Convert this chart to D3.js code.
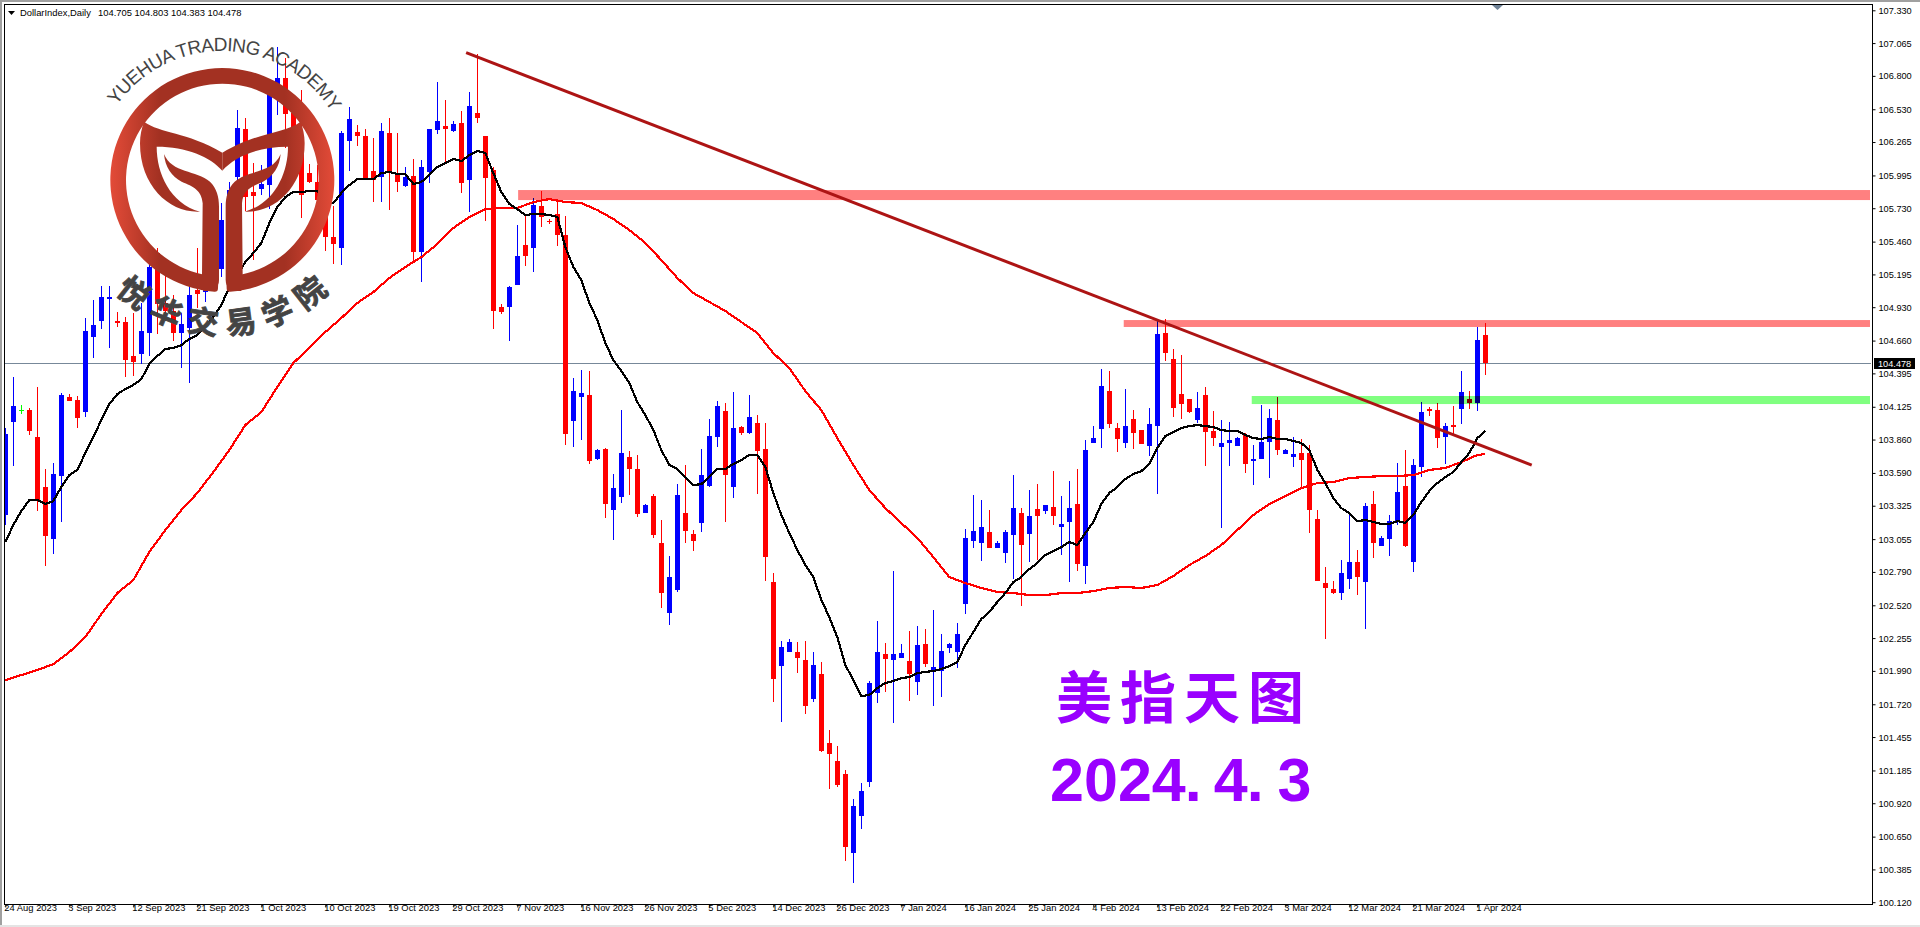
<!DOCTYPE html>
<html>
<head>
<meta charset="utf-8">
<title>DollarIndex,Daily</title>
<script src="https://cdn.jsdelivr.net/npm/d3@7"></script>
<style>
  html, body { margin: 0; padding: 0; background: #fff; overflow: hidden; }
  svg { display: block; }
  text { font-family: "Liberation Sans", Arial, sans-serif; }
</style>
</head>
<body>
<div id="chart"></div>
<script>
// Price data, one entry per daily bar
const highs = [
  103.953,104.366,104.139,104.114,104.285,103.621,103.670,104.236,104.228,104.212,
  104.842,104.988,105.101,105.101,104.891,104.850,104.883,104.964,105.408,105.408,
  105.230,105.028,104.883,105.109,105.408,105.230,105.675,105.772,105.942,106.524,
  106.459,106.095,106.079,106.685,107.033,106.944,106.605,106.685,106.087,106.079,
  105.748,105.748,106.354,106.548,106.402,106.370,106.297,106.419,106.459,106.338,
  106.063,106.128,106.120,106.370,106.750,106.605,106.435,106.516,106.669,106.976,
  106.314,106.063,104.955,105.101,105.594,105.675,105.812,105.869,105.643,105.796,
  105.667,104.357,104.422,104.414,103.783,103.791,103.581,104.098,103.767,103.735,
  103.339,103.419,103.209,102.918,103.500,103.654,103.128,103.783,104.026,104.171,
  104.155,104.244,103.969,104.220,104.058,103.993,102.781,102.231,102.247,102.223,
  102.231,102.142,102.061,101.512,101.382,101.188,100.954,101.083,101.908,102.393,
  102.215,102.797,102.207,102.312,102.352,102.328,102.482,102.288,102.215,102.377,
  103.137,103.411,103.371,103.290,103.040,103.128,103.573,103.306,103.452,103.500,
  103.331,103.605,103.403,103.525,103.622,103.856,103.969,104.430,104.414,103.993,
  104.268,104.098,103.937,104.114,104.826,104.834,104.592,104.543,104.188,104.244,
  104.285,104.090,104.018,104.002,103.880,103.913,103.816,104.139,104.106,104.204,
  103.783,103.880,103.864,103.816,103.290,102.829,102.716,102.886,103.266,102.967,
  103.347,103.444,103.080,103.250,103.670,103.775,103.702,104.163,104.123,104.155,
  103.993,104.131,104.414,104.252,104.770,104.803
];
const lows = [
  103.169,103.646,104.066,103.897,103.282,102.838,102.935,103.193,104.171,103.953,
  104.042,104.519,104.754,104.600,104.770,104.366,104.373,104.470,104.535,104.713,
  104.818,104.656,104.438,104.317,104.923,104.972,105.190,105.174,105.109,105.877,
  105.707,105.311,105.837,105.723,106.483,106.217,106.200,105.651,105.934,105.740,
  105.384,105.279,105.271,106.031,106.233,105.958,105.780,105.780,105.715,105.861,
  105.901,105.295,105.133,105.934,106.330,106.095,106.346,105.853,105.699,106.419,
  105.626,104.754,104.875,104.656,105.109,105.263,105.214,105.578,105.602,105.424,
  103.816,103.800,103.856,103.662,103.694,103.225,103.048,103.347,103.411,103.234,
  103.266,103.064,102.498,102.360,102.627,103.023,102.959,103.112,103.476,103.800,
  103.193,103.387,103.897,103.905,103.419,102.716,101.738,101.576,102.142,101.972,
  101.641,101.738,101.334,101.035,101.051,100.453,100.275,100.711,101.051,101.730,
  101.819,101.568,102.094,101.746,101.795,102.021,101.706,101.778,102.134,102.013,
  102.449,102.983,102.878,102.983,102.983,102.862,102.732,102.514,102.870,102.886,
  103.258,103.169,102.926,102.708,102.797,102.692,103.832,103.791,103.953,103.759,
  103.791,103.783,103.824,103.727,103.419,104.495,104.042,104.026,104.074,103.993,
  103.646,103.808,103.145,103.646,103.808,103.589,103.492,103.702,103.549,103.735,
  103.743,103.638,103.476,103.104,102.716,102.247,102.611,102.563,102.652,102.603,
  102.328,102.902,102.999,102.918,103.169,102.991,102.789,103.557,104.050,103.791,
  103.662,103.905,103.985,104.107,104.090,104.383
];
const opens = [
  103.250,104.001,104.098,104.098,103.880,103.476,103.056,103.565,104.204,104.179,
  104.082,104.689,104.818,104.996,104.818,104.810,104.535,104.551,104.721,105.368,
  104.964,104.899,104.721,104.762,105.069,105.052,105.594,105.238,105.295,105.982,
  106.370,105.861,105.885,105.917,106.629,106.782,106.500,106.176,106.014,105.942,
  105.715,105.497,105.408,106.273,106.346,106.314,106.031,105.982,106.338,106.014,
  105.909,105.990,105.376,106.023,106.362,106.394,106.354,106.419,105.958,106.500,
  106.314,106.039,104.931,104.931,105.109,105.432,105.408,105.748,105.626,105.683,
  105.513,104.010,104.204,104.220,103.702,103.783,103.290,103.395,103.719,103.622,
  103.266,103.403,103.023,102.457,102.643,103.266,103.096,103.185,103.484,103.880,
  104.090,103.476,103.961,103.913,103.993,103.783,102.708,102.029,102.142,102.142,
  102.077,101.762,101.964,101.406,101.261,101.156,100.517,100.817,101.091,101.811,
  102.126,102.077,102.094,102.069,101.900,102.207,101.981,101.989,102.175,102.142,
  102.530,103.040,103.023,103.112,102.983,102.943,103.088,103.266,103.096,103.298,
  103.282,103.314,103.153,103.193,103.339,102.838,103.832,103.945,104.252,103.953,
  103.832,104.026,103.937,103.807,103.969,104.721,104.511,104.228,104.188,104.018,
  104.220,103.929,103.800,103.832,103.808,103.897,103.686,103.702,103.840,104.018,
  103.743,103.719,103.751,103.751,103.217,102.700,102.652,102.619,102.732,102.870,
  102.708,103.339,102.999,103.056,103.201,103.484,102.870,103.638,104.107,104.098,
  103.880,103.977,104.107,104.188,104.155,104.705
];
const closes = [
  103.904,104.130,104.098,103.929,103.363,103.080,103.581,104.220,104.171,104.034,
  104.737,104.786,105.012,105.012,104.802,104.503,104.487,104.737,105.255,104.955,
  104.899,104.721,104.794,105.028,105.036,105.166,105.295,105.635,105.877,106.378,
  105.820,105.829,105.926,106.653,106.782,106.491,106.362,105.837,105.942,105.796,
  105.497,105.440,106.338,106.451,106.314,105.966,105.958,106.354,106.014,105.942,
  105.982,105.376,106.063,106.370,106.435,106.370,106.411,105.934,106.556,106.459,
  105.974,104.899,104.891,105.093,105.343,105.343,105.756,105.659,105.618,105.513,
  103.905,104.252,104.236,103.686,103.775,103.339,103.468,103.751,103.622,103.258,
  103.331,103.088,102.619,102.748,103.411,103.120,103.040,103.573,103.888,104.131,
  103.573,103.953,103.913,104.042,103.767,102.910,101.924,102.183,102.223,102.094,
  101.706,102.037,101.342,101.317,101.067,100.566,100.897,101.018,101.892,102.142,
  102.086,102.126,102.134,101.964,102.199,102.045,102.021,102.150,102.207,102.288,
  103.064,103.120,103.153,102.983,103.023,103.112,103.306,103.007,103.242,103.242,
  103.331,103.242,103.177,103.306,102.854,103.775,103.872,104.292,103.985,103.864,
  103.969,103.913,103.824,103.985,104.713,104.559,104.115,104.147,104.082,104.114,
  103.921,103.872,103.832,103.856,103.872,103.662,103.702,103.840,104.034,103.775,
  103.775,103.743,103.694,103.290,102.716,102.660,102.619,102.781,102.870,102.748,
  103.323,103.023,103.064,103.201,103.436,102.999,103.654,104.082,104.090,103.872,
  103.969,103.961,104.244,104.155,104.664,104.478
];

// Black moving average, one value per bar
const fastMA = [
  103.032,103.169,103.282,103.371,103.371,103.339,103.363,103.476,103.573,103.614,
  103.751,103.880,104.018,104.147,104.228,104.268,104.301,104.349,104.470,104.535,
  104.592,104.600,104.624,104.673,104.705,104.770,104.850,104.947,105.093,105.190,
  105.295,105.368,105.449,105.610,105.740,105.820,105.861,105.861,105.869,105.869,
  105.796,105.772,105.853,105.917,105.966,105.966,105.966,106.014,106.023,106.006,
  106.006,105.926,105.942,105.998,106.063,106.095,106.128,106.111,106.160,106.192,
  106.176,106.014,105.861,105.764,105.723,105.675,105.683,105.683,105.675,105.659,
  105.416,105.255,105.149,104.964,104.826,104.640,104.503,104.414,104.317,104.163,
  104.058,103.937,103.775,103.654,103.622,103.557,103.492,103.500,103.557,103.622,
  103.622,103.662,103.694,103.735,103.735,103.638,103.428,103.250,103.104,102.967,
  102.846,102.748,102.563,102.425,102.263,102.037,101.916,101.786,101.795,101.851,
  101.892,101.908,101.932,101.940,101.972,101.981,101.989,102.005,102.029,102.061,
  102.199,102.304,102.409,102.466,102.547,102.619,102.708,102.748,102.813,102.862,
  102.926,102.959,102.991,103.032,103.007,103.104,103.193,103.339,103.428,103.476,
  103.541,103.581,103.605,103.662,103.791,103.888,103.921,103.953,103.969,103.977,
  103.969,103.961,103.937,103.929,103.929,103.897,103.872,103.864,103.880,103.864,
  103.864,103.848,103.832,103.775,103.614,103.508,103.387,103.306,103.266,103.201,
  103.209,103.193,103.177,103.177,103.201,103.185,103.250,103.355,103.444,103.508,
  103.557,103.597,103.678,103.751,103.872,103.929
];

// Red moving average, read at every second bar plus the last one
const slowMABars = d3.range(0, 186, 2).concat([185]);
const slowMA = [
  101.916,101.956,101.997,102.045,102.142,102.263,102.449,102.619,102.724,102.951,
  103.128,103.290,103.428,103.597,103.775,103.977,104.082,104.285,104.479,104.600,
  104.729,104.842,104.964,105.052,105.166,105.255,105.335,105.440,105.570,105.659,
  105.723,105.732,105.732,105.780,105.804,105.780,105.772,105.715,105.643,105.554,
  105.449,105.311,105.166,105.044,104.972,104.899,104.810,104.721,104.559,104.438,
  104.252,104.098,103.872,103.654,103.452,103.306,103.185,103.064,102.910,102.748,
  102.700,102.660,102.627,102.619,102.603,102.603,102.619,102.619,102.635,102.660,
  102.668,102.660,102.684,102.757,102.846,102.918,103.007,103.128,103.250,103.339,
  103.403,103.468,103.508,103.516,103.549,103.557,103.565,103.565,103.573,103.614,
  103.630,103.678,103.735,103.743
];

const priceTicks = [107.33,107.065,106.8,106.53,106.265,105.995,105.73,105.46,105.195,104.93,104.66,104.395,104.125,103.86,103.59,103.325,103.055,102.79,102.52,102.255,101.99,101.72,101.455,101.185,100.92,100.65,100.385,100.12];
const dateLabels = ['24 Aug 2023','3 Sep 2023','12 Sep 2023','21 Sep 2023','1 Oct 2023','10 Oct 2023','19 Oct 2023','29 Oct 2023','7 Nov 2023','16 Nov 2023','26 Nov 2023','5 Dec 2023','14 Dec 2023','26 Dec 2023','7 Jan 2024','16 Jan 2024','25 Jan 2024','4 Feb 2024','13 Feb 2024','22 Feb 2024','3 Mar 2024','12 Mar 2024','21 Mar 2024','1 Apr 2024'];
const dateBars = dateLabels.map((d, i) => i * 8);

// Drawn objects on the chart, given in bar number and price
const trendBars = [57.6, 190.8];
const trendPrices = [106.988, 103.654];
const zoneStartBars = [64.1, 139.8, 155.8];
const zoneTops = [105.877, 104.826, 104.212];
const zoneBottoms = [105.796, 104.770, 104.147];
const zoneColors = ['#ff8080', '#ff8080', '#80ff80'];
const lastPrice = 104.478;

const width = 1920;
const height = 927;
const plot = { left: 5, top: 5, right: 1871, bottom: 904 };

const x = d3.scaleLinear().domain([0, 185]).range([5.33, 1485.33]);
const y = d3.scaleLinear().domain([107.33, 100.12]).range([10.3, 902.2]);

const svg = d3.select('#chart').append('svg')
  .attr('width', width)
  .attr('height', height);

const defs = svg.append('defs');
defs.append('clipPath').attr('id', 'plotClip').append('rect')
  .attr('x', plot.left).attr('y', plot.top)
  .attr('width', plot.right - plot.left).attr('height', plot.bottom - plot.top);

svg.append('rect').attr('width', width).attr('height', height).attr('fill', '#fff');

// Window edges
svg.append('rect').attr('width', 2).attr('height', height).attr('fill', '#a0a0a0');
svg.append('rect').attr('width', width).attr('height', 2).attr('fill', '#a0a0a0');
svg.append('rect').attr('y', 925).attr('width', width).attr('height', 2).attr('fill', '#e4e4e4');

const chart = svg.append('g').attr('clip-path', 'url(#plotClip)');

// Current price line
chart.append('line')
  .attr('x1', plot.left).attr('x2', plot.right)
  .attr('y1', Math.round(y(lastPrice)) + 0.5).attr('y2', Math.round(y(lastPrice)) + 0.5)
  .attr('stroke', '#778899').attr('stroke-width', 1);

// Candles
const candleColor = i => closes[i] > opens[i] ? '#0000ff' : (closes[i] < opens[i] ? '#ff0000' : '#00ff00');
const candles = chart.append('g').attr('shape-rendering', 'crispEdges');
candles.selectAll('.wick')
  .data(d3.range(highs.length))
  .enter().append('rect')
  .attr('class', 'wick')
  .attr('x', i => Math.floor(x(i)))
  .attr('y', i => Math.round(y(highs[i])))
  .attr('width', 1)
  .attr('height', i => Math.max(1, Math.round(y(lows[i])) - Math.round(y(highs[i]))))
  .attr('fill', candleColor);
candles.selectAll('.body')
  .data(d3.range(highs.length))
  .enter().append('rect')
  .attr('class', 'body')
  .attr('x', i => Math.floor(x(i)) - 2)
  .attr('y', i => Math.round(y(Math.max(opens[i], closes[i]))))
  .attr('width', 5)
  .attr('height', i => Math.max(1, Math.round(y(Math.min(opens[i], closes[i]))) - Math.round(y(Math.max(opens[i], closes[i])))))
  .attr('fill', candleColor);

// Moving averages, no smoothing on the edges as on the terminal
const line = d3.line().x(d => x(d[0])).y(d => y(d[1]));
chart.append('path')
  .attr('d', line(slowMA.map((v, i) => [slowMABars[i], v])))
  .attr('fill', 'none').attr('stroke', '#ff0000').attr('stroke-width', 2.2).attr('shape-rendering', 'crispEdges');
chart.append('path')
  .attr('d', line(fastMA.map((v, i) => [i, v])))
  .attr('fill', 'none').attr('stroke', '#000').attr('stroke-width', 2.2).attr('shape-rendering', 'crispEdges');

// Support and resistance zones, they darken what lies under them
chart.selectAll('.zone')
  .data(zoneStartBars)
  .enter().append('rect')
  .attr('class', 'zone')
  .attr('x', d => x(d))
  .attr('y', (d, i) => y(zoneTops[i]))
  .attr('width', d => plot.right - 1 - x(d))
  .attr('height', (d, i) => y(zoneBottoms[i]) - y(zoneTops[i]))
  .attr('fill', (d, i) => zoneColors[i])
  .style('mix-blend-mode', 'multiply');

// Trend line
chart.append('path')
  .attr('d', line(trendBars.map((b, i) => [b, trendPrices[i]])))
  .attr('fill', 'none').attr('stroke', '#ad1414').attr('stroke-width', 3);

// Academy logo, traced at 3x and scaled down
const gradientStops = [[0, '#e34b38'], [0.22, '#a33122'], [0.78, '#a33122'], [1, '#e34b38']];
const leafGradient = defs.append('linearGradient').attr('id', 'logoFill')
  .attr('gradientUnits', 'userSpaceOnUse')
  .attr('x1', 330).attr('x2', 1004).attr('y1', 0).attr('y2', 0);
const ringGradient = defs.append('linearGradient').attr('id', 'ringFill');
[leafGradient, ringGradient].forEach(g => {
  gradientStops.forEach(s => g.append('stop').attr('offset', s[0]).attr('stop-color', s[1]));
});

const logo = svg.append('g').attr('transform', 'scale(0.33333)');
const ringArc = d3.arc().innerRadius(289).outerRadius(336)
  .startAngle(Math.PI + 0.04).endAngle(3 * Math.PI - 0.04).cornerRadius(10);
logo.append('path').attr('transform', 'translate(667,540)').attr('d', ringArc()).attr('fill', 'url(#ringFill)');

const leaf = 'M432 365 C480 400 560 395 667 458 L667 512 C630 470 560 440 470 440 C470 520 510 610 600 635 C510 640 420 560 420 430 C420 405 425 385 432 365 Z';
const stem = 'M492 462 C515 520 590 510 630 545 C650 565 657 590 657 620 L657 840 C657 865 635 875 610 873 L606 825 L608 610 C605 570 580 560 545 545 C515 530 495 500 492 462 Z';
[leaf, stem].forEach(d => {
  logo.append('path').attr('d', d).attr('fill', 'url(#logoFill)');
  logo.append('path').attr('d', d).attr('fill', 'url(#logoFill)').attr('transform', 'translate(1334,0) scale(-1,1)');
});

// Academy name on its arc
const arcPoint = (r, deg) => [222 + r * Math.sin(deg * Math.PI / 180), 180 - r * Math.cos(deg * Math.PI / 180)];
const arcStart = arcPoint(129, -85);
const arcEnd = arcPoint(129, 85);
defs.append('path').attr('id', 'logoArc')
  .attr('d', `M${arcStart[0]} ${arcStart[1]} A129 129 0 0 1 ${arcEnd[0]} ${arcEnd[1]}`);
svg.append('text')
  .attr('fill', '#444').attr('font-size', 19).attr('text-anchor', 'middle')
  .attr('textLength', 254)
  .append('textPath').attr('href', '#logoArc').attr('startOffset', '51%')
  .text('YUEHUA TRADING ACADEMY');

const logoChars = ['悦', '华', '交', '易', '学', '院'];
svg.selectAll('.logoChar')
  .data(logoChars)
  .enter().append('text')
  .attr('class', 'logoChar')
  .attr('transform', (d, i) => {
    const deg = 38 - i * 15.2;
    const p = arcPoint(141, 180 + deg);
    return `translate(${p[0]},${p[1]}) rotate(${deg})`;
  })
  .attr('text-anchor', 'middle').attr('dominant-baseline', 'central')
  .attr('font-size', 31).attr('font-weight', 700).attr('fill', '#444')
  .attr('stroke', '#444').attr('stroke-width', 0.8)
  .style('font-family', '"Noto Sans CJK SC"')
  .text(d => d);

// Caption
svg.append('text')
  .attr('x', 1056).attr('y', 718)
  .attr('font-size', 56).attr('font-weight', 700).attr('letter-spacing', 8).attr('fill', '#9900ff')
  .style('font-family', '"Noto Sans CJK SC"')
  .text('美指天图');
svg.append('text')
  .attr('x', 1050).attr('y', 801)
  .attr('font-size', 61).attr('font-weight', 700).attr('fill', '#9900ff')
  .attr('dx', '0 0 0 0 -1 12 -1 14')
  .text('2024.4.3');

// Frame
svg.append('rect')
  .attr('x', 4.5).attr('y', 4.5).attr('width', 1868).attr('height', 899.5)
  .attr('fill', 'none').attr('stroke', '#000').attr('stroke-width', 1)
  .attr('shape-rendering', 'crispEdges');

// Axes
const yAxis = svg.append('g')
  .attr('transform', `translate(1872.5,0)`)
  .call(d3.axisRight(y).tickValues(priceTicks).tickSize(3).tickPadding(3).tickFormat(d3.format('.3f')));
yAxis.select('.domain').remove();
yAxis.selectAll('text').attr('font-size', 9.2).attr('fill', '#000');

const xAxis = svg.append('g')
  .attr('transform', `translate(0,904.5)`)
  .call(d3.axisBottom(x).tickValues(dateBars).tickSize(3).tickPadding(2).tickFormat((d, i) => dateLabels[i]));
xAxis.select('.domain').remove();
xAxis.selectAll('text')
  .attr('font-size', 9.4).attr('fill', '#000').attr('text-anchor', 'start').attr('dx', -1.5).attr('dy', 1);

// Last price tag
svg.append('rect')
  .attr('x', 1874).attr('y', Math.round(y(lastPrice)) - 5).attr('width', 41).attr('height', 11).attr('fill', '#000');
svg.append('text')
  .attr('x', 1878).attr('y', Math.round(y(lastPrice)) + 4)
  .attr('font-size', 9.2).attr('fill', '#fff')
  .text(d3.format('.3f')(lastPrice));

// Chart header
svg.append('path').attr('d', d3.line()([[8, 11], [15, 11], [11.5, 15]])).attr('fill', '#000');
svg.append('text').attr('x', 20).attr('y', 16).attr('font-size', 9.4).attr('fill', '#000').text('DollarIndex,Daily');
svg.append('text').attr('x', 98).attr('y', 16).attr('font-size', 9.4).attr('fill', '#000')
  .text([opens[185].toFixed(3), highs[185].toFixed(3), lows[185].toFixed(3), closes[185].toFixed(3)].join(' '));

// Chart shift marker at the top edge
svg.append('path').attr('d', d3.line()([[1492, 5], [1503, 5], [1497.5, 10]])).attr('fill', '#6f8296');
</script>
</body>
</html>
